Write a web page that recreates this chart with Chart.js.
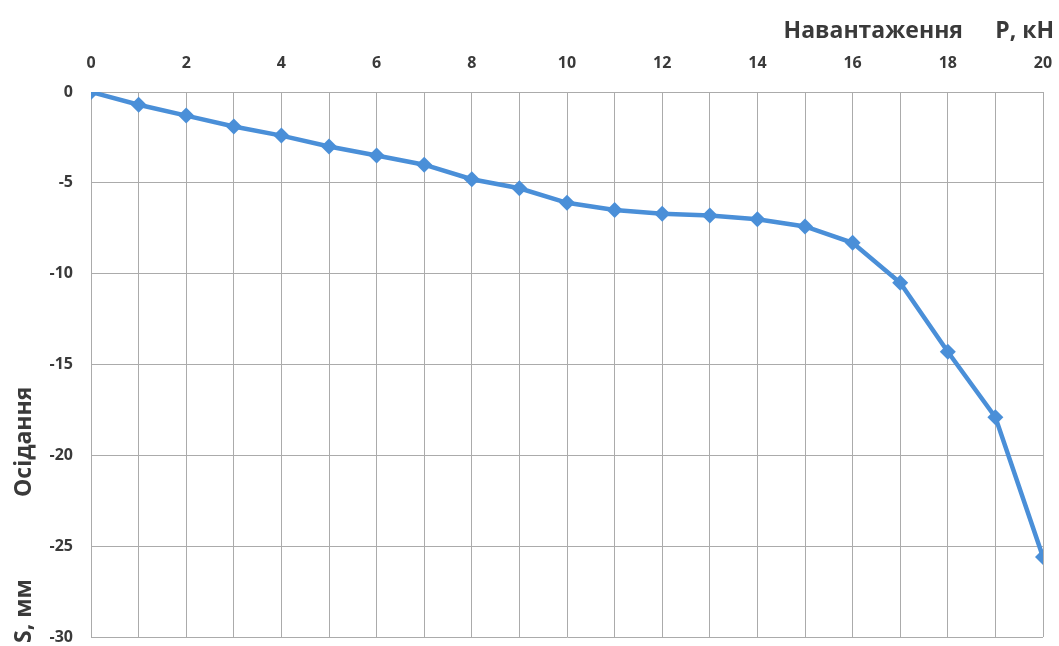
<!DOCTYPE html>
<html>
<head>
<meta charset="utf-8">
<script src="https://cdn.jsdelivr.net/npm/chart.js@4/dist/chart.umd.min.js"></script>
<style>
    html, body { margin: 0; padding: 0; background: #fff; }
    #wrap { width: 1059px; height: 646px; }
</style>
</head>
<body>
<div id="wrap"><canvas id="chart" width="1059" height="646"></canvas></div>
<script>
// Load P, kN vs settlement S, mm
const loads = [0, 1, 2, 3, 4, 5, 6, 7, 8, 9, 10, 11, 12, 13, 14, 15, 16, 17, 18, 19, 20];
const settlement = [0, -0.7, -1.3, -1.9, -2.4, -3.0, -3.5, -4.0, -4.8, -5.3, -6.1, -6.5, -6.7, -6.8, -7.0, -7.4, -8.3, -10.5, -14.3, -17.9, -25.6];
const xTitle = ['Навантаження', 'P, кН'];
const yTitle = ['S, мм', 'Осідання'];

const FONT = '"Open Sans", "DejaVu Sans", sans-serif';
const INK = '#3a3a3a';
const LINE = '#4a8fd8';

// axis titles sit in odd spots (Excel-ish), so draw them by hand
const axisTitles = {
    id: 'axisTitles',
    afterDraw(chart) {
        const ctx = chart.ctx;
        ctx.save();
        ctx.fillStyle = INK;
        ctx.font = `bold 23px ${FONT}`;
        ctx.textBaseline = 'alphabetic';
        ctx.textAlign = 'right';
        ctx.fillText(xTitle[0], 963, 38);
        ctx.fillText(xTitle[1], 1054, 38);

        ctx.textAlign = 'left';
        ctx.translate(31, 0);
        ctx.rotate(-Math.PI / 2);
        ctx.fillText(yTitle[0], -643, 0);
        ctx.fillText(yTitle[1], -497, 0);
        ctx.restore();
    }
};

new Chart(document.getElementById('chart').getContext('2d'), {
    type: 'line',
    data: {
        datasets: [{
            data: loads.map((p, i) => ({ x: p, y: settlement[i] })),
            borderColor: LINE,
            backgroundColor: LINE,
            borderWidth: 4.5,
            pointStyle: 'rectRot',
            pointRadius: 8,
            pointBorderWidth: 0,
            tension: 0
        }]
    },
    options: {
        responsive: false,
        animation: false,
        layout: { padding: { left: 0, right: 16, top: 0, bottom: 9 } },
        plugins: { legend: { display: false }, tooltip: { enabled: false } },
        scales: {
            x: {
                type: 'linear',
                position: 'top',
                min: 0,
                max: 20,
                afterFit: s => { s.height = 92; s.paddingLeft = 0; s.paddingRight = 0; },
                ticks: {
                    stepSize: 1,
                    autoSkip: false,
                    maxRotation: 0,
                    padding: 19,
                    color: INK,
                    font: { family: FONT, size: 16, weight: 'bold' },
                    callback: v => (v % 2 === 0 ? v : '')
                },
                grid: { color: '#ababab', lineWidth: 1, drawTicks: false },
                border: { color: '#ababab' }
            },
            y: {
                min: -30,
                max: 0,
                afterFit: s => { s.width = 91; s.paddingTop = 0; s.paddingBottom = 0; },
                ticks: {
                    stepSize: 5,
                    padding: 18,
                    color: INK,
                    font: { family: FONT, size: 16, weight: 'bold' }
                },
                grid: { color: '#ababab', lineWidth: 1, drawTicks: false },
                border: { color: '#ababab' }
            }
        }
    },
    plugins: [axisTitles]
});
</script>
</body>
</html>
